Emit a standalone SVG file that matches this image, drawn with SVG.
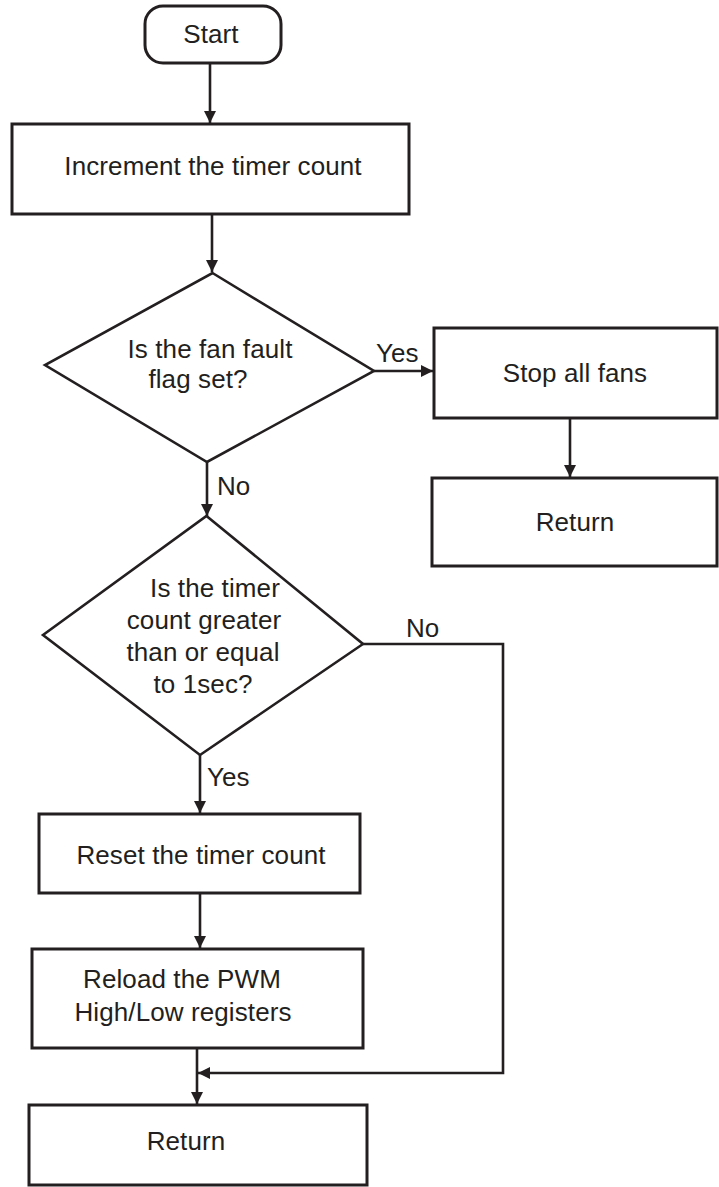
<svg xmlns="http://www.w3.org/2000/svg" width="719" height="1187" viewBox="0 0 719 1187">
<defs>
<style>
.box{fill:#fff;stroke:#231f20;stroke-width:3}
.dia{fill:#fff;stroke:#231f20;stroke-width:2.6;stroke-linejoin:miter}
.con{fill:none;stroke:#231f20;stroke-width:2.6}
.t{font-family:"Liberation Sans",Arial,sans-serif;font-size:26px;fill:#231f20;text-anchor:middle;letter-spacing:0.1px}
.l{font-family:"Liberation Sans",Arial,sans-serif;font-size:26px;fill:#231f20}
</style>
<marker id="ah" markerUnits="userSpaceOnUse" markerWidth="14" markerHeight="14" refX="12" refY="6" orient="auto">
<path d="M0,0 L12,6 L0,12 Z" fill="#231f20"/>
</marker>
</defs>
<rect width="719" height="1187" fill="#fff"/>
<g id="connectors">
<line class="con" x1="210" y1="63" x2="210" y2="123" marker-end="url(#ah)"/>
<line class="con" x1="212" y1="214" x2="212" y2="272" marker-end="url(#ah)"/>
<line class="con" x1="374" y1="371" x2="433" y2="371" marker-end="url(#ah)"/>
<line class="con" x1="570" y1="418" x2="570" y2="477" marker-end="url(#ah)"/>
<line class="con" x1="207" y1="462" x2="207" y2="516" marker-end="url(#ah)"/>
<line class="con" x1="200" y1="755" x2="200" y2="813" marker-end="url(#ah)"/>
<line class="con" x1="200" y1="893" x2="200" y2="948" marker-end="url(#ah)"/>
<line class="con" x1="197" y1="1048" x2="197" y2="1104" marker-end="url(#ah)"/>
<polyline class="con" points="363,644 503,644 503,1073 198,1073" marker-end="url(#ah)"/>
<text class="l" x="376" y="362">Yes</text>
<text class="l" x="217" y="495">No</text>
<text class="l" x="406" y="637">No</text>
<text class="l" x="207" y="786">Yes</text>
</g>
<g id="start">
<rect class="box" x="145" y="6" width="136" height="57" rx="18"/>
<text class="t" x="211" y="43">Start</text>
</g>
<g id="increment">
<rect class="box" x="12" y="124" width="397" height="90"/>
<text class="t" x="213" y="175">Increment the timer count</text>
</g>
<g id="fault">
<polygon class="dia" points="212.5,273 374,371 207,462 45,365"/>
<text class="t" x="210" y="358">Is the fan fault</text>
<text class="t" x="198" y="388">flag set?</text>
</g>
<g id="stop">
<rect class="box" x="434" y="328" width="283" height="90"/>
<text class="t" x="575" y="382">Stop all fans</text>
</g>
<g id="return1">
<rect class="box" x="432" y="478" width="285" height="88"/>
<text class="t" x="575" y="531">Return</text>
</g>
<g id="timer">
<polygon class="dia" points="206.5,516 363,644 200,755 43,635"/>
<text class="t" x="215" y="597">Is the timer</text>
<text class="t" x="204" y="629">count greater</text>
<text class="t" x="203" y="661">than or equal</text>
<text class="t" x="203" y="693">to 1sec?</text>
</g>
<g id="reset">
<rect class="box" x="39" y="814" width="321" height="79"/>
<text class="t" x="201" y="864">Reset the timer count</text>
</g>
<g id="reload">
<rect class="box" x="32" y="949" width="331" height="99"/>
<text class="t" x="182" y="988">Reload the PWM</text>
<text class="t" x="183" y="1021">High/Low registers</text>
</g>
<g id="return2">
<rect class="box" x="29" y="1105" width="338" height="80"/>
<text class="t" x="186" y="1150">Return</text>
</g>
</svg>
